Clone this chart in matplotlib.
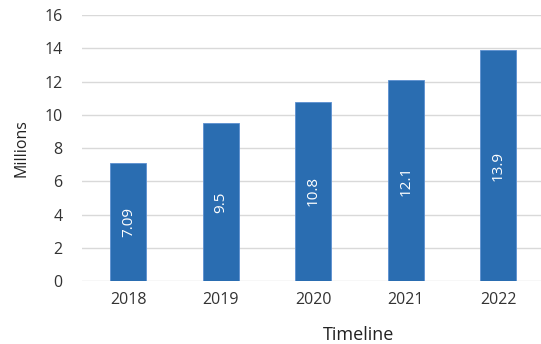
import matplotlib.pyplot as plt

years = ['2018', '2019', '2020', '2021', '2022']
values = [7.09, 9.5, 10.8, 12.1, 13.9]
labels = ['7.09', '9.5', '10.8', '12.1', '13.9']

plt.rcParams['font.family'] = ['Open Sans', 'DejaVu Sans']

fig = plt.figure(figsize=(5.41, 3.44), dpi=100)
ax = fig.add_axes([0.1516, 0.183, 0.8484, 0.773])

x = range(len(years))
bars = ax.bar(x, values, width=0.39, color='#2a6db1', edgecolor='#5b8fd0', linewidth=0.6, zorder=3)
for b, lab in zip(bars, labels):
    ax.text(b.get_x() + b.get_width() / 2, b.get_height() / 2, lab,
            rotation=90, ha='center', va='center', color='white', fontsize=11, zorder=4)

ax.set_xlim(-0.5, 4.46)
ax.set_ylim(0, 16)
ax.set_yticks(range(0, 17, 2))
ax.set_xticks(list(x))
ax.set_xticklabels(years)
ax.grid(axis='y', color='#d9d9d9', linewidth=1, zorder=0)
for s in ax.spines.values():
    s.set_visible(False)
ax.tick_params(length=0, labelsize=11.5, colors='#333333', pad=8)
ax.tick_params(axis='y', pad=14)
ax.set_ylabel('Millions', fontsize=11.5, color='#222222', labelpad=11)
ax.set_xlabel('Timeline', fontsize=13, color='#222222')
ax.xaxis.set_label_coords(0.603, -0.168)

fig.savefig('out.png', dpi=100)
